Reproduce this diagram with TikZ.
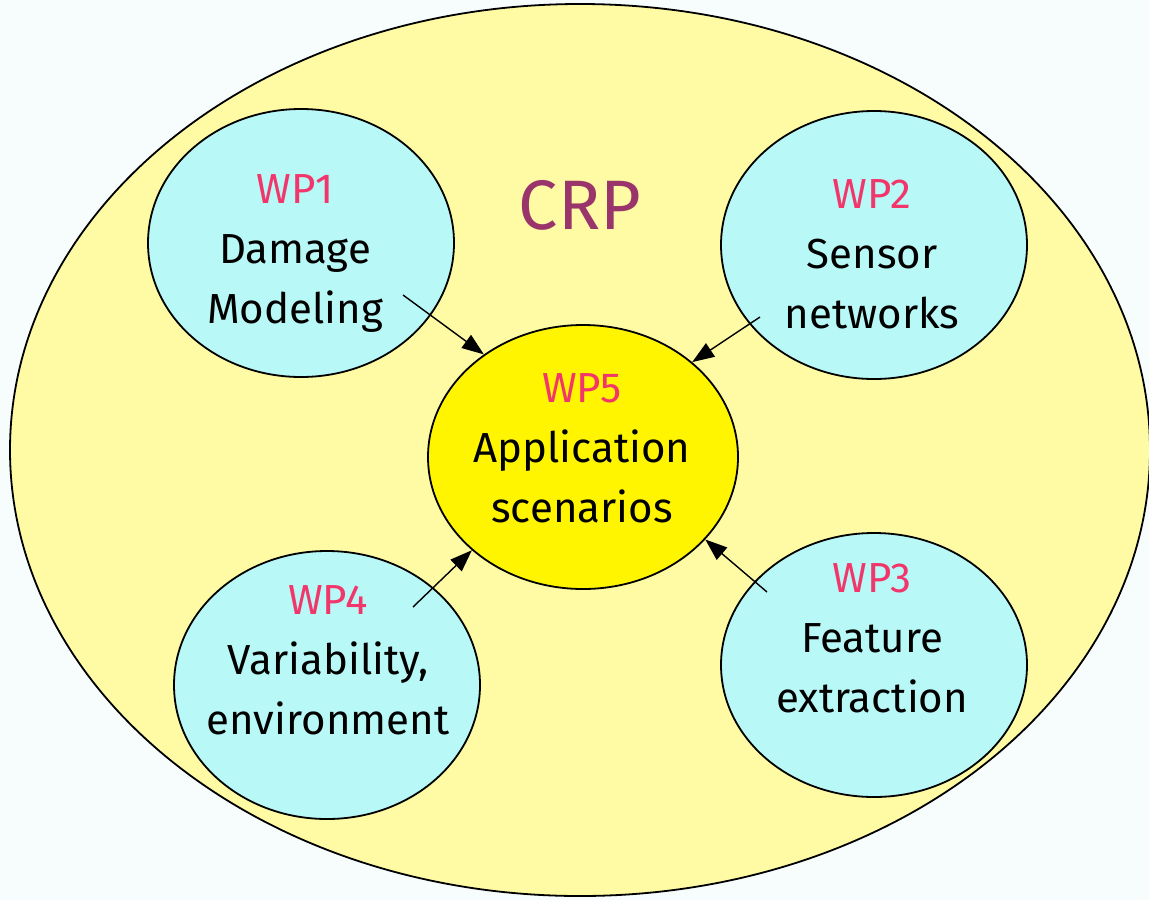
\documentclass[tikz,border=0pt]{standalone}
\usepackage{fontspec}
\setmainfont{Fira Sans}
\usetikzlibrary{shapes.geometric,arrows.meta}
\definecolor{bgpaper}{HTML}{F7FCFD}
\definecolor{crpfill}{HTML}{FFFAA4}
\definecolor{wpfill}{HTML}{B8F8F6}
\definecolor{corefill}{HTML}{FFF500}
\definecolor{wplabel}{HTML}{F2356A}
\definecolor{crplabel}{HTML}{99356B}
\begin{document}
\begin{tikzpicture}[x=0.5pt,y=-0.5pt,
  outline/.style={ellipse, draw=black, line width=0.9pt, inner sep=0pt},
  bubble/.style={outline, fill=wpfill, minimum width=153pt, minimum height=134pt},
  wptext/.style={align=center, font=\fontsize{21}{30}\selectfont, text=black, inner sep=0pt},
  link/.style={line width=0.7pt, -{Triangle[length=11pt,width=8pt]}}]
  % page and frame
  \fill[bgpaper] (0,0) rectangle (1149,900);
  \useasboundingbox (0,0) rectangle (1149,900);
  \begin{scope}
    \clip (0,0) rectangle (1149,900);
    \node[outline, fill=crpfill, minimum width=570pt, minimum height=446pt] (crp) at (580,450) {};
  \end{scope}
  \node[text=crplabel, font=\fontsize{35}{40}\selectfont] (crplbl) at (580,205) {CRP};
  % work packages
  \node[bubble] (wp1) at (301,243) {};
  \node[bubble] (wp2) at (874,245) {};
  \node[bubble] (wp4) at (327,685) {};
  \node[bubble, minimum height=132pt] (wp3) at (874,665) {};
  \node[outline, fill=corefill, minimum width=155pt, minimum height=132pt] (wp5) at (583,457) {};
  % labels
  \node[wptext] (t1) at (295,253) {\textcolor{wplabel}{WP1}\\Damage\\Modeling};
  \node[wptext] (t2) at (872,254) {\textcolor{wplabel}{WP2}\\Sensor\\networks};
  \node[wptext] (t5) at (582,448) {\textcolor{wplabel}{WP5}\\Application\\scenarios};
  \node[wptext] (t4) at (328,660) {\textcolor{wplabel}{WP4}\\Variability,\\environment};
  \node[wptext] (t3) at (872,638) {\textcolor{wplabel}{WP3}\\Feature\\extraction};
  % dependencies into WP5
  \coordinate (s1) at (403,295);
  \coordinate (s2) at (760,317);
  \coordinate (s4) at (413,607);
  \coordinate (s3) at (767,592);
  \draw[link] (s1) -- (wp5.134);
  \draw[link] (s2) -- (wp5.41);
  \draw[link] (s4) -- (wp5.220);
  \draw[link] (s3) -- (wp5.326);
\end{tikzpicture}
\end{document}
